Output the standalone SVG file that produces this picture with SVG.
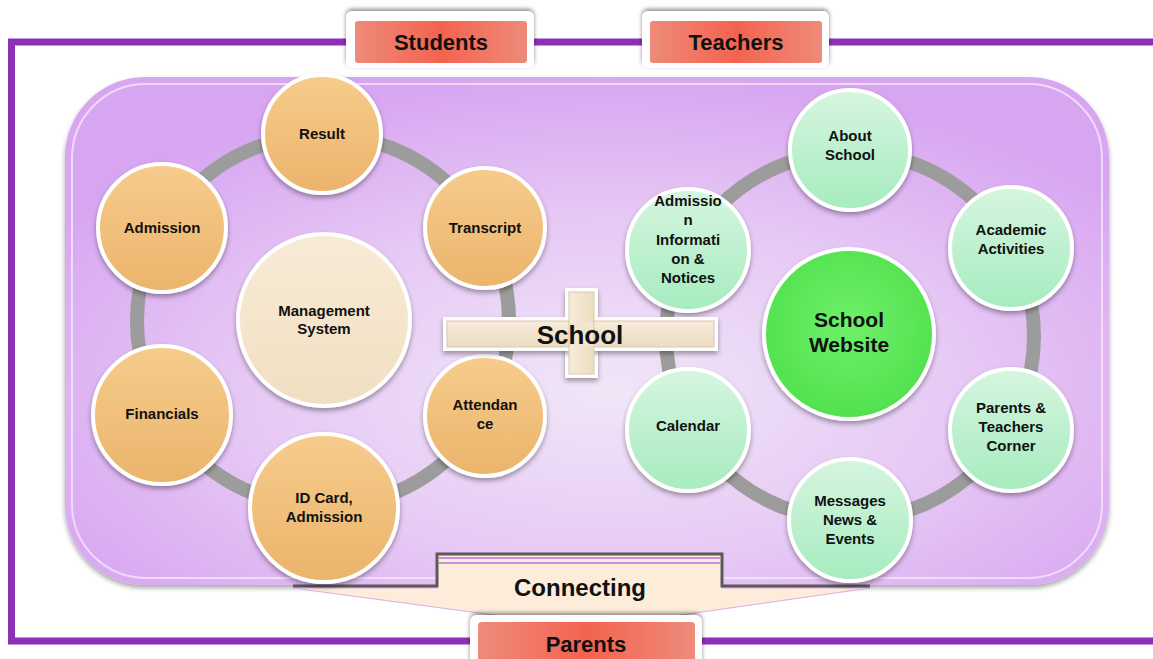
<svg xmlns="http://www.w3.org/2000/svg" width="1153" height="659" viewBox="0 0 1153 659">
<defs>
<radialGradient id="bgG" cx="0.52" cy="0.62" r="0.62">
<stop offset="0" stop-color="#f1e6f8"/>
<stop offset="0.55" stop-color="#e6c9f5"/>
<stop offset="1" stop-color="#d8a6f1"/>
</radialGradient>
<linearGradient id="orG" x1="0" y1="0" x2="0" y2="1">
<stop offset="0" stop-color="#f6cc8c"/>
<stop offset="1" stop-color="#ebb46b"/>
</linearGradient>
<linearGradient id="grG" x1="0" y1="0" x2="0" y2="1">
<stop offset="0" stop-color="#d6f5e0"/>
<stop offset="1" stop-color="#a6ecbf"/>
</linearGradient>
<linearGradient id="crG" x1="0" y1="0" x2="0" y2="1">
<stop offset="0" stop-color="#f8ebd6"/>
<stop offset="1" stop-color="#f1dfc2"/>
</linearGradient>
<radialGradient id="wsG" cx="0.5" cy="0.45" r="0.6">
<stop offset="0" stop-color="#6ef06a"/>
<stop offset="1" stop-color="#4fe04c"/>
</radialGradient>
<linearGradient id="redG" x1="0" y1="0" x2="1" y2="0">
<stop offset="0" stop-color="#ee8b7a"/>
<stop offset="0.5" stop-color="#f3634f"/>
<stop offset="1" stop-color="#ee8b7a"/>
</linearGradient>
<linearGradient id="barH" x1="0" y1="0" x2="0" y2="1">
<stop offset="0" stop-color="#f7ecdb"/>
<stop offset="1" stop-color="#ecdcc0"/>
</linearGradient>
<linearGradient id="barV" x1="0" y1="0" x2="1" y2="0">
<stop offset="0" stop-color="#f7ecdb"/>
<stop offset="1" stop-color="#ecdcc0"/>
</linearGradient>
<filter id="sh" x="-20%" y="-20%" width="140%" height="140%">
<feDropShadow dx="0" dy="3" stdDeviation="2.5" flood-color="#000" flood-opacity="0.35"/>
</filter>
<filter id="shs" x="-10%" y="-20%" width="120%" height="150%">
<feDropShadow dx="0" dy="-2" stdDeviation="2" flood-color="#000" flood-opacity="0.45"/>
</filter>
</defs>
<style>
.t{font-family:"Liberation Sans",Arial,sans-serif;font-weight:bold;fill:#111;text-anchor:middle}
.n{font-size:15px}
.ring{fill:none;stroke:#9c9c9c;stroke-width:14}
.or{fill:url(#orG);stroke:#fff;stroke-width:4;filter:url(#sh)}
.gr{fill:url(#grG);stroke:#fff;stroke-width:4;filter:url(#sh)}
.frame{stroke:#8e2fb8;stroke-width:7;fill:none}
.lblO{fill:#fff;filter:url(#shs)}
.lblI{fill:url(#redG)}
</style>
<rect width="1153" height="659" fill="#fff"/>
<!-- outer frame -->
<g id="frame">
<path class="frame" d="M1153,42 L11.5,42 L11.5,641 L1153,641"/>
</g>
<!-- main panel -->
<g id="panel">
<rect x="65" y="77" width="1044" height="508" rx="80" fill="url(#bgG)" filter="url(#sh)"/>
<rect x="72" y="84" width="1030" height="494" rx="74" fill="none" stroke="#f6e6fb" stroke-width="2" opacity="0.8"/>
</g>
<!-- connecting callout -->
<g id="connecting">
<path d="M437,553 L722,553 L722,588 L870,588 L590,628 L293,588 L437,588 Z" fill="#fcecd9" stroke="#d9aee6" stroke-width="1"/>
<polyline points="293,586 437,586 437,554 722,554 722,586 870,586" fill="none" stroke="#5a5a5a" stroke-width="3"/>
<line x1="439" y1="558" x2="720" y2="558" stroke="#c58fdc" stroke-width="2"/>
<line x1="439" y1="563" x2="720" y2="563" stroke="#c58fdc" stroke-width="2"/>
<text class="t" x="580" y="596" font-size="24">Connecting</text>
</g>
<!-- connectors (rings) -->
<g id="connectors">
<circle class="ring" cx="323" cy="321" r="186"/>
<circle class="ring" cx="850" cy="336" r="184"/>
</g>
<!-- left nodes -->
<g id="mgmt"><circle cx="324" cy="320" r="86" fill="url(#crG)" stroke="#fff" stroke-width="4" filter="url(#sh)"/>
<text class="t n" x="324" y="316">Management</text><text class="t n" x="324" y="334">System</text></g>
<g id="result"><circle class="or" cx="322" cy="134" r="59"/><text class="t n" x="322" y="139">Result</text></g>
<g id="admission"><circle class="or" cx="162" cy="228" r="64"/><text class="t n" x="162" y="233">Admission</text></g>
<g id="transcript"><circle class="or" cx="485" cy="228" r="60"/><text class="t n" x="485" y="233">Transcript</text></g>
<g id="financials"><circle class="or" cx="162" cy="415" r="69"/><text class="t n" x="162" y="419">Financials</text></g>
<g id="idcard"><circle class="or" cx="324" cy="508" r="74"/><text class="t n" x="324" y="503">ID Card,</text><text class="t n" x="324" y="522">Admission</text></g>
<g id="attendance"><circle class="or" cx="485" cy="416" r="60"/><text class="t n" x="485" y="410">Attendan</text><text class="t n" x="485" y="429">ce</text></g>
<!-- right nodes -->
<g id="website"><circle cx="849" cy="334" r="85" fill="url(#wsG)" stroke="#fff" stroke-width="4" filter="url(#sh)"/>
<text class="t" font-size="21" x="849" y="327">School</text><text class="t" font-size="21" x="849" y="352">Website</text></g>
<g id="about"><circle class="gr" cx="850" cy="150" r="60"/><text class="t n" x="850" y="141">About</text><text class="t n" x="850" y="160">School</text></g>
<g id="adminfo"><circle class="gr" cx="688" cy="250" r="61"/>
<text class="t n" x="688" y="206">Admissio</text><text class="t n" x="688" y="225">n</text><text class="t n" x="688" y="245">Informati</text><text class="t n" x="688" y="264">on &amp;</text><text class="t n" x="688" y="283">Notices</text></g>
<g id="academic"><circle class="gr" cx="1011" cy="248" r="61"/><text class="t n" x="1011" y="235">Academic</text><text class="t n" x="1011" y="254">Activities</text></g>
<g id="calendar"><circle class="gr" cx="688" cy="430" r="61"/><text class="t n" x="688" y="431">Calendar</text></g>
<g id="ptcorner"><circle class="gr" cx="1011" cy="430" r="61"/><text class="t n" x="1011" y="413">Parents &amp;</text><text class="t n" x="1011" y="432">Teachers</text><text class="t n" x="1011" y="451">Corner</text></g>
<g id="messages"><circle class="gr" cx="850" cy="520" r="61"/><text class="t n" x="850" y="506">Messages</text><text class="t n" x="850" y="525">News &amp;</text><text class="t n" x="850" y="544">Events</text></g>
<!-- School cross -->
<g id="school">
<rect x="565" y="288" width="33" height="90" fill="#fff" filter="url(#sh)"/>
<rect x="443" y="317" width="275" height="34" fill="#fff" filter="url(#sh)"/>
<rect x="447" y="321" width="267" height="26" fill="url(#barH)" stroke="#d8c8ad" stroke-width="1"/>
<rect x="569" y="292" width="25" height="82" fill="url(#barV)" stroke="#d8c8ad" stroke-width="1"/>
<rect x="570" y="322" width="23" height="24" fill="#f3e6d0"/>
<text class="t" font-size="26" x="580" y="344">School</text>
</g>
<!-- labels -->
<g id="students">
<rect class="lblO" x="346" y="11" width="188" height="57" rx="6"/>
<rect class="lblI" x="355" y="21" width="172" height="42" rx="3"/>
<text class="t" font-size="22" x="441" y="50">Students</text>
</g>
<g id="teachers">
<rect class="lblO" x="642" y="11" width="187" height="57" rx="6"/>
<rect class="lblI" x="650" y="21" width="172" height="42" rx="3"/>
<text class="t" font-size="22" x="736" y="50">Teachers</text>
</g>
<g id="parents">
<rect class="lblO" x="470" y="615" width="232" height="60" rx="7"/>
<rect class="lblI" x="478" y="622" width="217" height="50" rx="4"/>
<text class="t" font-size="22" x="586" y="652">Parents</text>
</g>
</svg>
